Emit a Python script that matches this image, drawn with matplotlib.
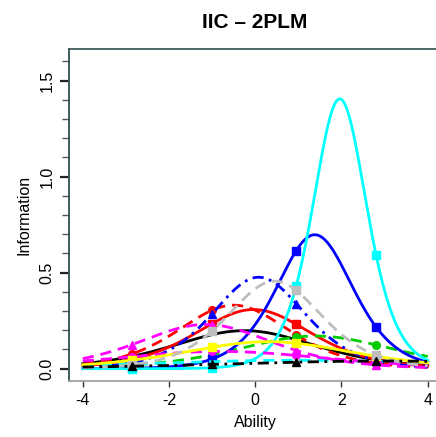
import numpy as np
import matplotlib.pyplot as plt
from matplotlib.ticker import MultipleLocator

# item parameters (peak height = a^2/4, peak position = b)
discrimination = [0.89, 1.11, 1.15, 0.825, 1.67, 1.38, 2.37, 0.42, 0.96, 0.60, 0.75, 1.35, 0.40]
difficulty = [-0.25, -0.04, -0.50, 1.40, 1.38, 0.08, 1.96, 1.00, -1.15, -0.80, 0.30, 0.45, 3.00]

colors = ['black', 'red', 'red', '#00cd00', 'blue', 'blue', 'cyan', 'cyan',
          'magenta', 'magenta', 'yellow', '#bebebe', 'black']
styles = ['solid', 'solid', 'dashed', 'dashed', 'solid', 'dotdash', 'solid', 'dashed',
          'dashed', 'dashed', 'solid', 'dashed', 'dotdash']
markers = ['', 's', 'o', 'o', 's', '^', 's', '', '^', 'o', 's', 's', '^']

marker_theta = [-2.87, -1.0, 0.95, 2.8]
x_ticks = [-4, -2, 0, 2, 4]
y_ticks = [0.0, 0.5, 1.0, 1.5]

dash_map = {'solid': '-', 'dashed': (0, (4, 2.5)), 'dotdash': (0, (4, 2, 1, 2))}


def info(theta, a, b):
    p = 1.0 / (1.0 + np.exp(-a * (theta - b)))
    return a ** 2 * p * (1 - p)


plt.rcParams['font.family'] = ['Liberation Sans', 'DejaVu Sans']

fig = plt.figure(figsize=(4.36, 4.37), dpi=100)
ax = fig.add_axes([69 / 436, 1 - 381 / 437, (441.5 - 69) / 436, (381 - 49) / 437])

theta = np.linspace(-4, 4, 300)
mt = np.array(marker_theta)
for a, b, c, s, m in zip(discrimination, difficulty, colors, styles, markers):
    ax.plot(theta, info(theta, a, b), color=c, lw=2, linestyle=dash_map[s])
    if m:
        ax.plot(mt, info(mt, a, b), color=c, linestyle='none', marker=m, ms=5.5)

ax.set_xlim(-4.32, 4.32)
ax.set_ylim(-0.064, 1.664)
ax.set_xticks(x_ticks)
ax.set_xticklabels(['-4', '-2', '0', '2', '4'])
ax.set_yticks(y_ticks)
ax.set_yticklabels(['0.0', '0.5', '1.0', '1.5'], rotation=90, va='center')
ax.yaxis.set_minor_locator(MultipleLocator(0.1))

ax.tick_params(axis='x', length=4.5, width=1, labelsize=11.5, pad=4, color='#333333')
ax.tick_params(axis='y', which='major', length=6.5, width=1.6, labelsize=11.5, pad=4, color='#222222')
ax.tick_params(axis='y', which='minor', length=5, width=1, color='#555555')

ax.spines['left'].set_color('#2f4f4f')
ax.spines['top'].set_color('#3f5a5a')
ax.spines['bottom'].set_color('#9aa2a2')
ax.spines['right'].set_color('#3f5a5a')
for sp in ax.spines.values():
    sp.set_linewidth(1.3)

ax.set_xlabel('Ability', fontsize=11.5, labelpad=5)
ax.set_ylabel('Information', fontsize=11.5, labelpad=6)
fig.text(255 / 436, 1 - 22 / 437, 'IIC \u2013 2PLM', fontsize=15, fontweight='bold',
         ha='center', va='center')

fig.savefig('out.png', dpi=100)
